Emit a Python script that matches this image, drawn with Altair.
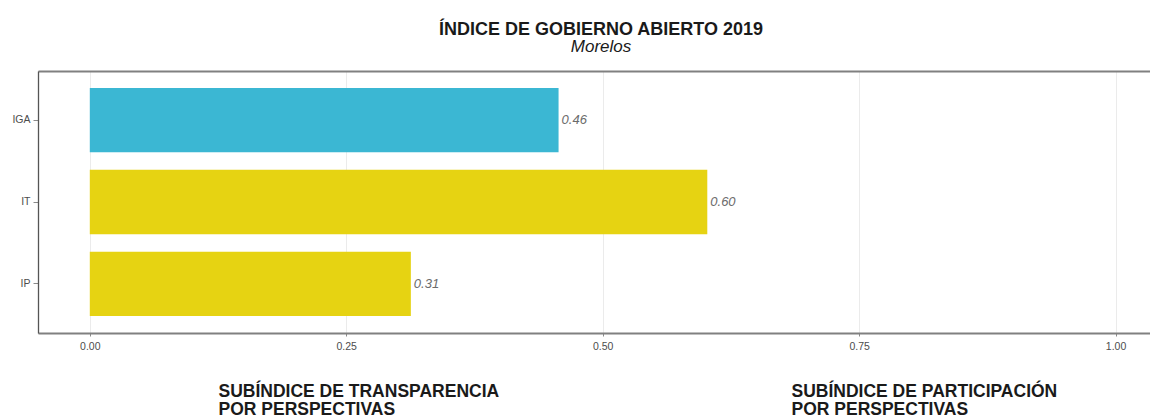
import altair as alt
import pandas as pd

categories = ["IGA", "IT", "IP"]
values = [0.457, 0.602, 0.313]
colors = ["#3bb7d3", "#e6d312", "#e6d312"]

x_ticks = [0.0, 0.25, 0.5, 0.75, 1.0]
bottom_titles = [
    ["SUBÍNDICE DE TRANSPARENCIA", "POR PERSPECTIVAS"],
    ["SUBÍNDICE DE PARTICIPACIÓN", "POR PERSPECTIVAS"],
]
bottom_title_px = [180.5, 753.5]

df = pd.DataFrame({"cat": categories, "val": values, "color": colors})

W, H = 1112, 262
xscale = alt.Scale(domain=[-0.0505, 1.0336], nice=False, zero=False)

x = alt.X(
    "val:Q", scale=xscale,
    axis=alt.Axis(
        values=x_ticks, format=".2f", title=None, labelFontSize=10.5,
        labelColor="#4d4d4d", labelFont="Liberation Sans", tickColor="#8a8a8a",
        tickSize=3, labelPadding=5, domainColor="#808080", domainWidth=2,
        gridColor="#ebebeb", gridWidth=1,
    ),
)
y = alt.Y(
    "cat:N", sort=categories,
    scale=alt.Scale(paddingInner=0.215, paddingOuter=0.2075),
    axis=alt.Axis(
        title=None, labelFontSize=10.5, labelColor="#4d4d4d",
        labelFont="Liberation Sans", tickColor="#8a8a8a", tickSize=5,
        labelPadding=3, domainColor="#555555", domainWidth=1.3,
        gridColor="#ebebeb", gridWidth=1,
    ),
)

bars = alt.Chart(df).mark_bar().encode(
    x=x, y=y, color=alt.Color("color:N", scale=None)
)
labels = alt.Chart(df).mark_text(
    align="left", baseline="middle", dx=3, fontSize=13, fontStyle="italic",
    font="Liberation Sans", color="#6b6b6b",
).encode(
    x=alt.X("val:Q", scale=xscale,
            axis=alt.Axis(orient="top", labels=False, ticks=False, grid=False,
                          title=None, domainColor="#808080", domainWidth=2)),
    y=alt.Y("cat:N", sort=categories),
    text=alt.Text("val:Q", format=".2f"),
)

bt_layers = []
for i, lines in enumerate(bottom_titles):
    bt_layers.append(
        alt.Chart(pd.DataFrame({"k": [i]})).mark_text(
            text=lines, align="left", baseline="alphabetic", fontSize=17.5,
            fontWeight="bold", font="Liberation Sans", color="#1a1a1a",
            lineHeight=18, clip=False,
        ).encode(x=alt.value(bottom_title_px[i]), y=alt.value(325.5))
    )

chart = alt.layer(bars, labels, *bt_layers).resolve_axis(x="independent").properties(
    width=W, height=H,
    autosize=alt.AutoSizeParams(type="none"),
    padding={"left": 30, "top": 63, "right": 0, "bottom": 90},
    title=alt.TitleParams(
        text="ÍNDICE DE GOBIERNO ABIERTO 2019", subtitle="Morelos",
        anchor="middle", fontSize=18, fontWeight="bold", font="Liberation Sans",
        color="#1a1a1a", subtitleFontSize=17, subtitleFontStyle="italic",
        subtitleFont="Liberation Sans", subtitleColor="#1a1a1a",
        subtitlePadding=0, offset=16, dx=7,
    ),
).configure_view(stroke=None).configure(background="white")

chart.save("out.html", embed_options={"renderer": "svg", "actions": False})
